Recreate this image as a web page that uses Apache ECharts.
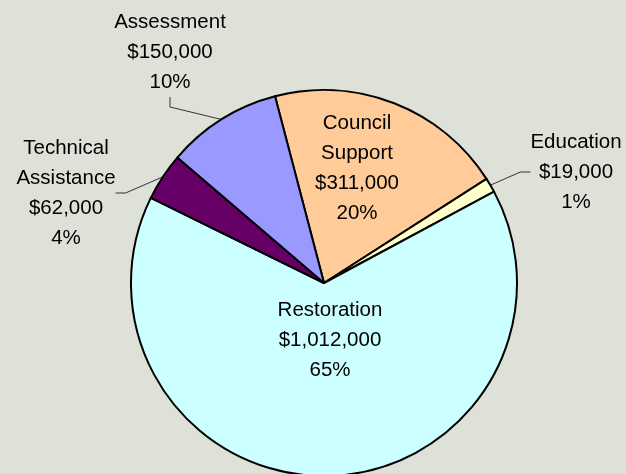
<!DOCTYPE html>
<html>
<head>
<meta charset="utf-8">
<script src="https://cdn.jsdelivr.net/npm/echarts@6/dist/echarts.min.js"></script>
<style>
html,body{margin:0;padding:0;background:#DDE1D7;}
#c{width:626px;height:474px;}
</style>
</head>
<body>
<div id="c"></div>
<script>
const categories = ['Council\nSupport', 'Education', 'Restoration', 'Technical\nAssistance', 'Assessment'];
const values = [311000, 19000, 1012000, 62000, 150000];
const colors = ['#FFCC99', '#FFFFCC', '#CCFFFF', '#660066', '#9999FF'];
const labelPos = [[357, 168], [576, 172], [330, 340], [66, 193], [170, 52]];

const total = values.reduce((a, b) => a + b, 0);
function fmtMoney(v){ return '$' + v.toLocaleString('en-US'); }

const chart = echarts.init(document.getElementById('c'), null, {renderer:'canvas'});
chart.setOption({
  backgroundColor: '#DDE1D7',
  animation: false,
  series: [{
    type: 'pie',
    center: [324, 283],
    radius: [0, 193],
    startAngle: 104.7,
    clockwise: true,
    avoidLabelOverlap: false,
    itemStyle: { borderColor: '#000', borderWidth: 2 },
    label: {
      show: true,
      position: 'outside',
      color: '#000',
      fontFamily: 'Liberation Sans, Arial, sans-serif',
      fontSize: 20.5,
      lineHeight: 30,
      align: 'center',
      formatter: p => p.name + '\n' + fmtMoney(p.value) + '\n' + Math.round(p.value / total * 100) + '%'
    },
    labelLine: { show: true, length: 14, length2: 10, lineStyle: { color: '#333', width: 1 } },
    labelLayout: function(params){
      const pos = labelPos[params.dataIndex];
      return { x: pos[0], y: pos[1], align: 'center', verticalAlign: 'middle' };
    },
    data: categories.map((c, i) => {
      const d = { name: c, value: values[i], itemStyle: { color: colors[i] } };
      if (i === 0 || i === 2) { d.labelLine = { show: false }; }
      return d;
    })
  }]
});
</script>
</body>
</html>
